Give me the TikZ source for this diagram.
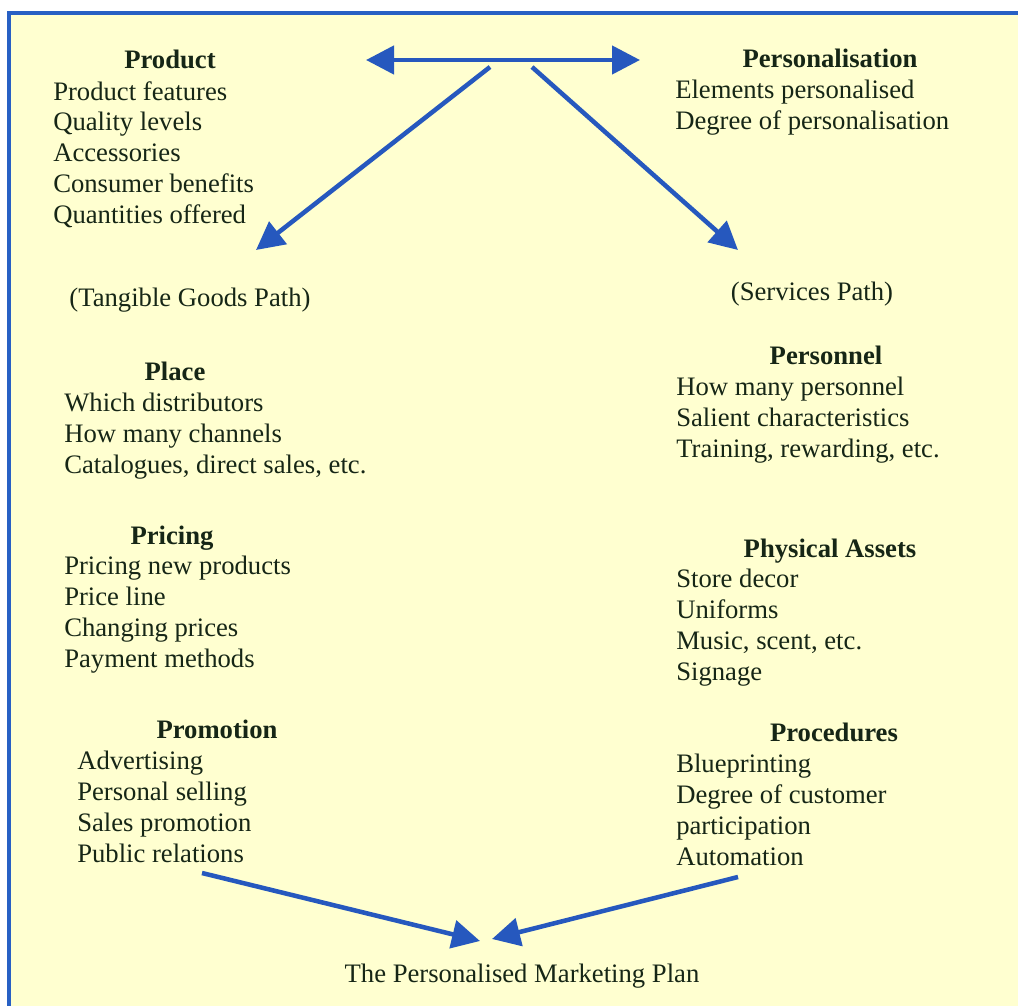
\documentclass[tikz,border=0pt]{standalone}
\usepackage{fontspec}
\setmainfont{Liberation Serif}
\usepackage{xcolor}
\usetikzlibrary{arrows.meta,positioning}
\definecolor{paper}{RGB}{255,255,208}
\definecolor{frameblue}{RGB}{40,96,196}
\definecolor{arrowblue}{RGB}{38,88,190}
\definecolor{ink}{RGB}{22,38,22}
\tikzset{%
	head/.style     = {font=\fontsize{20}{23.1}\selectfont\bfseries, text=ink, inner sep=0pt, anchor=base}, % Heading
	items/.style    = {font=\fontsize{20}{23.1}\selectfont, text=ink, align=left, inner sep=0pt, anchor=north west, execute at begin node=\strut}, % List
	pathlabel/.style= {font=\fontsize{20}{23.1}\selectfont, text=ink, inner sep=0pt, anchor=base},
	waypoint/.style = {coordinate},
	bluearrow/.style= {arrowblue, line width=3.4pt, -{Triangle[length=21pt,width=21pt]}},
}

\begin{document}
\begin{tikzpicture}[x=0.75pt,y=-0.75pt]
	\useasboundingbox (0,0) rectangle (1018,1006);
	\fill[white] (0,0) rectangle (1018,1006);
	\draw[frameblue, line width=3pt, fill=paper] (9,13) rectangle (1040,1030);
	
	% left column
	\node[head] (product) at (170,69) {Product};
	\node[items] (productlist) at (53,81) {Product features\\Quality levels\\Accessories\\Consumer benefits\\Quantities offered};
	\node[pathlabel] (goods) at (190,306) {(Tangible Goods Path)};
	\node[head] (place) at (175,380) {Place};
	\node[items] (placelist) at (64,393) {Which distributors\\How many channels\\Catalogues, direct sales, etc.};
	\node[head] (pricing) at (172,544) {Pricing};
	\node[items] (pricinglist) at (64,556) {Pricing new products\\Price line\\Changing prices\\Payment methods};
	\node[head] (promotion) at (217,738) {Promotion};
	\node[items] (promotionlist) at (77,751) {Advertising\\Personal selling\\Sales promotion\\Public relations};
	
	% right column
	\node[head] (personal) at (830,68) {Personalisation};
	\node[items] (personallist) at (675,80) {Elements personalised\\Degree of personalisation};
	\node[pathlabel] (services) at (812,300) {(Services Path)};
	\node[head] (personnel) at (826,364) {Personnel};
	\node[items] (personnellist) at (676,377) {How many personnel\\Salient characteristics\\Training, rewarding, etc.};
	\node[head] (assets) at (830,557) {Physical Assets};
	\node[items] (assetslist) at (676,569) {Store decor\\Uniforms\\Music, scent, etc.\\Signage};
	\node[head] (procedures) at (834,741) {Procedures};
	\node[items] (procedureslist) at (676,754) {Blueprinting\\Degree of customer\\participation\\Automation};
	
	\node[pathlabel] (plan) at (522,982) {The Personalised Marketing Plan};
	
	% arrow ends
	\node[waypoint] (wl) at (366,60) {};
	\node[waypoint] (wr) at (640,60) {};
	\node[waypoint] (wa) at (490,67) {};
	\node[waypoint] (wb) at (532,67) {};
	\node[waypoint] (wgoods) at (256,250) {};
	\node[waypoint] (wserv) at (738,250) {};
	\node[waypoint] (wpromo) at (202,873) {};
	\node[waypoint] (wproc) at (738,877) {};
	\node[waypoint] (wplan1) at (480,941) {};
	\node[waypoint] (wplan2) at (492,939) {};
	
	\draw[bluearrow, {Triangle[length=21pt,width=21pt]}-{Triangle[length=21pt,width=21pt]}] (wl) -- (wr);
	\draw[bluearrow] (wa) -- (wgoods);
	\draw[bluearrow] (wb) -- (wserv);
	\draw[bluearrow] (wpromo) -- (wplan1);
	\draw[bluearrow] (wproc) -- (wplan2);
\end{tikzpicture}
\end{document}
